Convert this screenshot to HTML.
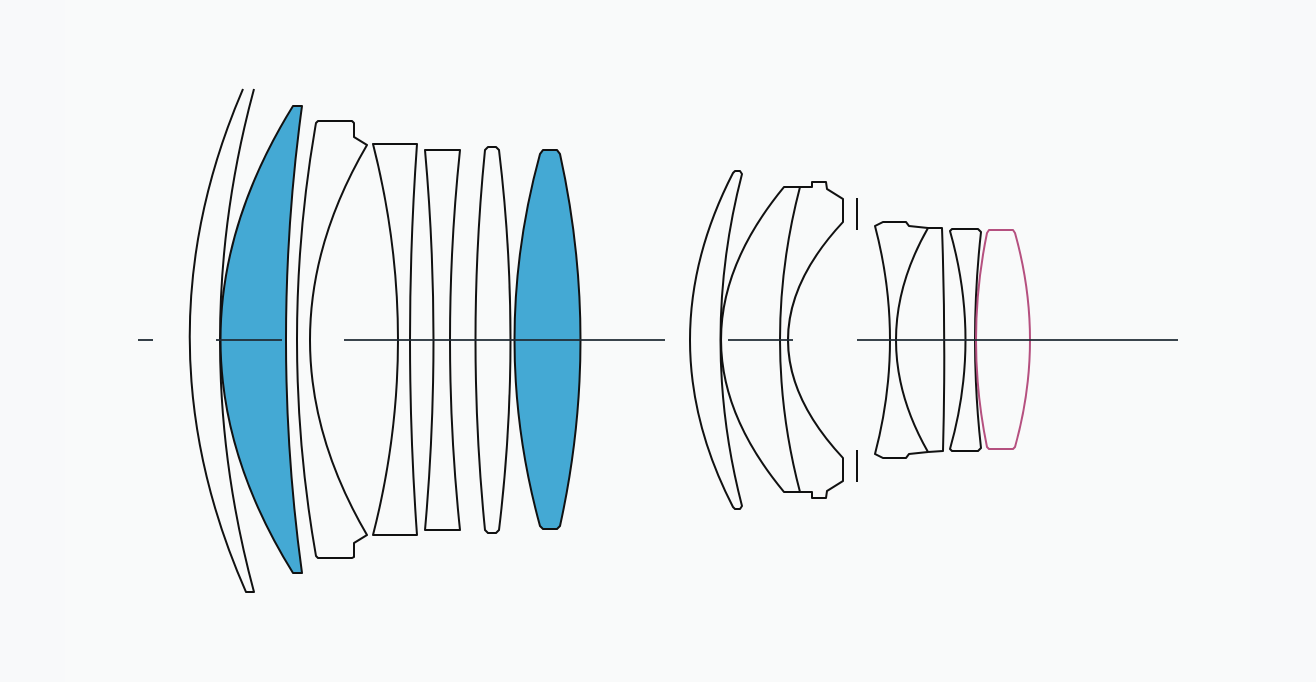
<!DOCTYPE html>
<html><head><meta charset="utf-8"><style>html,body{margin:0;padding:0;background:#f8f9fa}svg{display:block}</style></head>
<body>
<svg width="1316" height="682" viewBox="0 0 1316 682" xmlns="http://www.w3.org/2000/svg">
<rect width="1316" height="682" fill="#f8f9fa"/>
<rect x="65" y="0" width="1185" height="682" fill="#f9fafa"/>
<g fill="none" stroke="#111" stroke-width="2" stroke-linejoin="round">
<path d="M243,89 Q135,340 246,592 L254,592 Q186,340 254,89"/>
<path d="M293,106 L302,106 Q270,340 302,573 L293,573 Q148,340 293,106 Z" fill="#44a9d4"/>
<path d="M318,121 L352,121 L354,123 L354,137 L367,145 Q253,340 367,535 L354,543 L354,557 L352,558 L318,558 L316,556 Q278,340 316,123 Z"/>
<path d="M373,144 L417,144 Q403,340 417,535 L373,535 Q423,340 373,144 Z"/>
<path d="M425,150 L460,150 Q440,340 460,530 L425,530 Q442,340 425,150 Z"/>
<path d="M488,147 L496,147 L499,150 Q522,340 499,530 L496,533 L488,533 L485,530 Q466,340 485,150 Z"/>
<path d="M543,150 L557,150 L560,154 Q601,340 560,526 L557,529 L543,529 L540,526 Q489,340 540,154 Z" fill="#44a9d4"/>
<path d="M735,171 L740,171 L742,174 Q699,340 742,506 L740,509 L735,509 L733,507 Q647,340 733,173 Z"/>
<path d="M800,187 L784,187 Q658,340 784,492 L800,492"/>
<path d="M800,187 Q760,340 800,492"/>
<path d="M800,187 L812,187 L812,182 L826,182 L827,189 L843,199 L843,222 Q733,340 843,458 L843,481 L827,491 L826,498 L812,498 L812,492 L800,492"/>
<line x1="857" y1="198" x2="857" y2="230"/>
<line x1="857" y1="450" x2="857" y2="482"/>
<path d="M928,228 L909,226 L906,222 L883,222 L875,226 Q905,340 875,454 L883,458 L906,458 L909,454 L928,452"/>
<path d="M928,228 Q864,340 928,452"/>
<path d="M928,228 L942,228 Q946,340 943,451 L928,452"/>
<path d="M952,229 L978,229 L981,232 Q969,340 981,448 L978,451 L952,451 L950,449 Q981,340 950,231 Z"/>
</g>
<path d="M989,230 L1013,230 L1015,233 Q1045,340 1015,447 L1013,449 L989,449 L987,447 Q965,340 987,233 Z" fill="none" stroke="#b5507f" stroke-width="2" stroke-linejoin="round"/>
<g stroke="#1f2a33" stroke-width="1.8">
<line x1="138" y1="340" x2="153" y2="340"/>
<line x1="216" y1="340" x2="282" y2="340"/>
<line x1="344" y1="340" x2="665" y2="340"/>
<line x1="728" y1="340" x2="793" y2="340"/>
<line x1="857" y1="340" x2="1178" y2="340"/>
</g>
</svg>
</body></html>
